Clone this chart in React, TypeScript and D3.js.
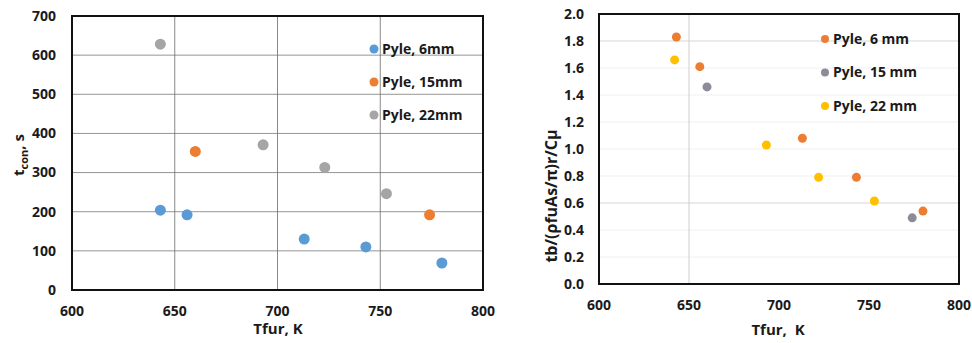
import React from "react";
import * as d3 from "d3";

const xTicks = [600, 650, 700, 750, 800];
const leftYTicks = [0, 100, 200, 300, 400, 500, 600, 700];
const rightYTicks = [0, 0.2, 0.4, 0.6, 0.8, 1.0, 1.2, 1.4, 1.6, 1.8, 2.0];

const leftSeriesNames = ["Pyle, 6mm", "Pyle, 15mm", "Pyle, 22mm"];
const leftColors = ["#5B9BD5", "#ED7D31", "#A5A5A5"];
const left6 = [[643, 204], [656, 192], [713, 130], [743, 110], [780, 69]];
const left15 = [[660, 354], [774, 192]];
const left22 = [[643, 628], [693, 371], [723, 313], [753, 246]];

const rightSeriesNames = ["Pyle, 6 mm", "Pyle, 15 mm", "Pyle, 22 mm"];
const rightColors = ["#ED7D31", "#8C8C99", "#FFC000"];
const right6 = [[643, 1.83], [656, 1.61], [713, 1.08], [743, 0.79], [780, 0.54]];
const right15 = [[660, 1.46], [774, 0.49]];
const right22 = [[642, 1.66], [693, 1.03], [722, 0.79], [753, 0.615]];

const FONT = "'Open Sans', 'Liberation Sans', sans-serif";
const TXT = "#1a1a1a";

export default function App() {
  const lx = d3.scaleLinear().domain([600, 800]).range([72, 483]);
  const ly = d3.scaleLinear().domain([0, 700]).range([290, 16]);
  const rx = d3.scaleLinear().domain([600, 800]).range([599, 959]);
  const ry = d3.scaleLinear().domain([0, 2]).range([284, 14]);

  const leftData = [left6, left15, left22];
  const rightData = [right6, right15, right22];

  return (
    <svg width={972} height={343} style={{ position: "absolute", left: 0, top: 0, background: "#fff" }} fontFamily={FONT}>
      <rect x={0} y={0} width={972} height={343} fill="#fff" />
      {/* LEFT CHART */}
      <g>
        {leftYTicks.filter((t) => t > 0 && t < 700).map((t) => (
          <line key={"lgy" + t} x1={lx(600)} x2={lx(800)} y1={ly(t)} y2={ly(t)} stroke="#7a7a7a" strokeWidth={0.8} />
        ))}
        {xTicks.filter((t) => t > 600 && t < 800).map((t) => (
          <line key={"lgx" + t} x1={lx(t)} x2={lx(t)} y1={ly(0)} y2={ly(700)} stroke="#6a6a6a" strokeWidth={0.8} />
        ))}
        {leftData.map((s, i) =>
          s.map((d, j) => (
            <circle key={"lp" + i + "-" + j} cx={lx(d[0])} cy={ly(d[1])} r={5.5} fill={leftColors[i]} />
          ))
        )}
        <rect x={lx(600)} y={ly(700)} width={lx(800) - lx(600)} height={ly(0) - ly(700)} fill="none" stroke="#111" strokeWidth={2} />
        {leftYTicks.map((t) => (
          <text key={"lyt" + t} x={56} y={ly(t)} dy="0.35em" textAnchor="end" fontSize={14} fontWeight="bold" fill={TXT}>
            {t}
          </text>
        ))}
        {xTicks.map((t) => (
          <text key={"lxt" + t} x={lx(t)} y={311} dy="0.35em" textAnchor="middle" fontSize={14} fontWeight="bold" fill={TXT}>
            {t}
          </text>
        ))}
        <text x={278} y={329} dy="0.35em" textAnchor="middle" fontSize={15} fontWeight="bold" fill={TXT}>
          Tfur, K
        </text>
        <text transform={`translate(24,155) rotate(-90)`} textAnchor="middle" fontSize={15} fontWeight="bold" fill={TXT}>
          t<tspan fontSize={11} dy={4}>con</tspan>
          <tspan dy={-4}>, s</tspan>
        </text>
        {leftSeriesNames.map((n, i) => (
          <g key={"ll" + i}>
            <circle cx={374} cy={49 + i * 33} r={4.5} fill={leftColors[i]} />
            <text x={382} y={49 + i * 33} dy="0.35em" fontSize={14} fontWeight="bold" fill={TXT}>
              {n}
            </text>
          </g>
        ))}
      </g>

      {/* RIGHT CHART */}
      <g>
        {rightYTicks.filter((t) => t > 0 && t < 2).map((t) => {
          const strong = Math.abs(t - 1.8) < 1e-6 || Math.abs(t - 0.6) < 1e-6;
          return (
            <line key={"rgy" + t} x1={rx(600)} x2={rx(800)} y1={ry(t)} y2={ry(t)} stroke={strong ? "#d6d6d6" : "#f0f0f0"} strokeWidth={1} />
          );
        })}
        <line x1={rx(650)} x2={rx(650)} y1={ry(0)} y2={ry(2)} stroke="#cfcfcf" strokeWidth={1} />
        {rightData.map((s, i) =>
          s.map((d, j) => (
            <circle key={"rp" + i + "-" + j} cx={rx(d[0])} cy={ry(d[1])} r={4.5} fill={rightColors[i]} />
          ))
        )}
        <rect x={rx(600)} y={ry(2)} width={rx(800) - rx(600)} height={ry(0) - ry(2)} fill="none" stroke="#111" strokeWidth={2} />
        {rightYTicks.map((t) => (
          <text key={"ryt" + t} x={584} y={ry(t)} dy="0.35em" textAnchor="end" fontSize={14} fontWeight="bold" fill={TXT}>
            {d3.format(".1f")(t)}
          </text>
        ))}
        {xTicks.map((t) => (
          <text key={"rxt" + t} x={rx(t)} y={305} dy="0.35em" textAnchor="middle" fontSize={14} fontWeight="bold" fill={TXT}>
            {t}
          </text>
        ))}
        <text x={778} y={330} dy="0.35em" textAnchor="middle" fontSize={15} fontWeight="bold" fill={TXT} style={{ whiteSpace: "pre" }}>
          {"Tfur,  K"}
        </text>
        <text transform={`translate(557,196) rotate(-90)`} textAnchor="middle" fontSize={16} fontWeight="bold" fill={TXT}>
          tb/(ρfuAs/π)r/Cμ
        </text>
        {rightSeriesNames.map((n, i) => (
          <g key={"rl" + i}>
            <circle cx={825} cy={39 + i * 33.5} r={4} fill={rightColors[i]} />
            <text x={833} y={39 + i * 33.5} dy="0.35em" fontSize={14} fontWeight="bold" fill={TXT}>
              {n}
            </text>
          </g>
        ))}
      </g>
    </svg>
  );
}
